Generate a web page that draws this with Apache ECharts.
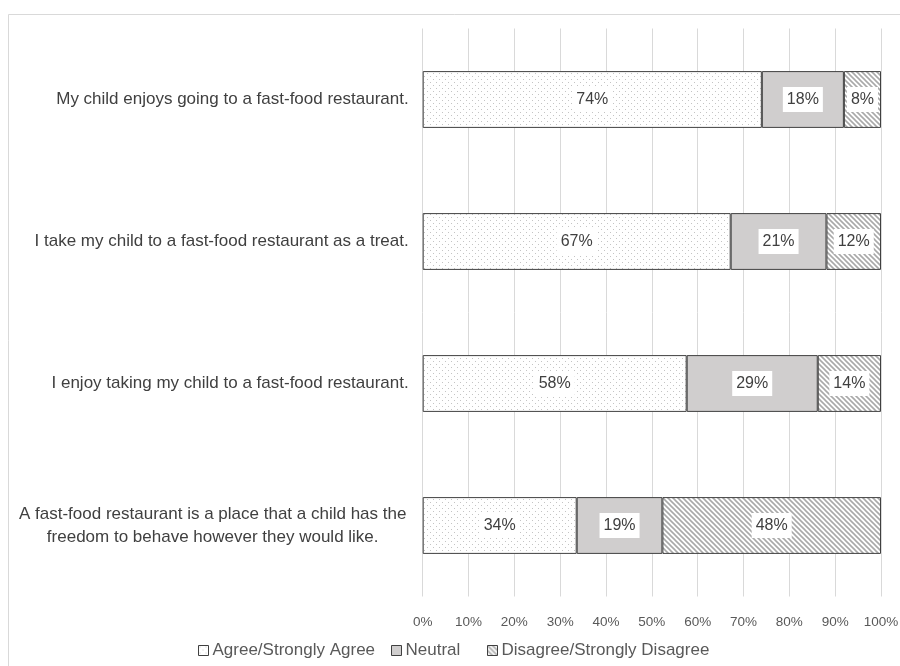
<!DOCTYPE html>
<html><head><meta charset="utf-8">
<script src="https://cdn.jsdelivr.net/npm/echarts@6/dist/echarts.min.js"></script>
<style>html,body{margin:0;padding:0;background:#fff}#c{width:900px;height:666px}</style>
</head><body><div id="c"></div>
<script>
var categories = [
  "My child enjoys going to a fast-food restaurant.",
  "I take my child to a fast-food restaurant as a treat.",
  "I enjoy taking my child to a fast-food restaurant.",
  "A fast-food restaurant is a place that a child has the\nfreedom to behave however they would like."
];
var seriesNames = ["Agree/Strongly Agree", "Neutral", "Disagree/Strongly Disagree"];
var agree = [74.0, 67.2, 57.6, 33.6];
var neutral = [17.9, 20.9, 28.6, 18.7];
var disagree = [8.1, 11.9, 13.8, 47.7];
var xTicks = [0, 10, 20, 30, 40, 50, 60, 70, 80, 90, 100];

function dotPattern() {
  var c = document.createElement('canvas'); c.width = 6; c.height = 6;
  var g = c.getContext('2d');
  g.fillStyle = '#ffffff'; g.fillRect(0, 0, 6, 6);
  g.fillStyle = '#c4c4c4';
  g.fillRect(1, 1, 1, 1); g.fillRect(4, 4, 1, 1);
  return c;
}
function hatchPattern() {
  var c = document.createElement('canvas'); c.width = 5; c.height = 5;
  var g = c.getContext('2d');
  g.fillStyle = '#ffffff'; g.fillRect(0, 0, 5, 5);
  g.strokeStyle = '#a9a9a9'; g.lineWidth = 1.6;
  g.beginPath();
  g.moveTo(-1, -1); g.lineTo(6, 6);
  g.moveTo(-4, 1); g.lineTo(4, 9);
  g.moveTo(1, -4); g.lineTo(9, 4);
  g.stroke();
  return c;
}
var fills = [
  {image: dotPattern(), repeat: 'repeat'},
  '#d0cece',
  {image: hatchPattern(), repeat: 'repeat'}
];
var FONT = 'Liberation Sans';
var chart = echarts.init(document.getElementById('c'), null, {renderer: 'canvas'});
var dataSets = [agree, neutral, disagree];
var series = seriesNames.map(function (n, i) {
  return {
    name: n, type: 'bar', stack: 'total', barWidth: '40%',
    data: dataSets[i],
    itemStyle: {color: fills[i], borderColor: '#404040', borderWidth: 1},
    label: {
      show: true, position: 'inside', fontFamily: FONT, fontSize: 16, color: '#404040',
      backgroundColor: '#ffffff', padding: [5, 4, 4, 4],
      formatter: function (p) { return Math.round(p.value) + '%'; }
    },
    emphasis: {disabled: true}
  };
});
var legendPos = [198, 391, 487];
var legends = seriesNames.map(function (n, i) {
  return {
    data: [n], left: legendPos[i], top: 642, padding: 0, itemWidth: 10, itemHeight: 10, itemGap: 4,
    icon: 'rect', selectedMode: false,
    itemStyle: {borderColor: '#404040', borderWidth: 1},
    textStyle: {fontFamily: FONT, fontSize: 17, color: '#595959', padding: [0, 0, 0, -1]}
  };
});
chart.setOption({
  animation: false,
  backgroundColor: '#ffffff',
  grid: {left: 422.7, right: 19, top: 28.5, bottom: 69.5, containLabel: false, outerBoundsMode: 'none'},
  xAxis: {
    type: 'value', min: 0, max: 100, interval: 10,
    axisLine: {show: false}, axisTick: {show: false},
    splitLine: {show: true, lineStyle: {color: '#d9d9d9', width: 1}},
    axisLabel: {
      margin: 19, fontFamily: FONT, fontSize: 13.5, color: '#595959',
      formatter: function (v) { return xTicks.indexOf(v) >= 0 ? v + '%' : ''; }
    }
  },
  yAxis: {
    type: 'category', data: categories, inverse: true,
    axisLine: {show: false}, axisTick: {show: false}, splitLine: {show: false},
    axisLabel: {
      margin: 14, fontFamily: FONT, fontSize: 17, color: '#404040', lineHeight: 23,
      formatter: function (v) {
        if (v.indexOf('\n') < 0) return v;
        return v.split('\n').map(function (s) { return '{c|' + s + '}'; }).join('\n');
      },
      rich: {c: {width: 392, align: 'center', fontFamily: FONT, fontSize: 17, color: '#404040', lineHeight: 23}}
    }
  },
  legend: legends,
  series: series,
  graphic: [{
    type: 'rect', z: -10, silent: true,
    shape: {x: 8.5, y: 14.5, width: 1000, height: 1000},
    style: {fill: null, stroke: '#d9d9d9', lineWidth: 1}
  }]
});
</script></body></html>
